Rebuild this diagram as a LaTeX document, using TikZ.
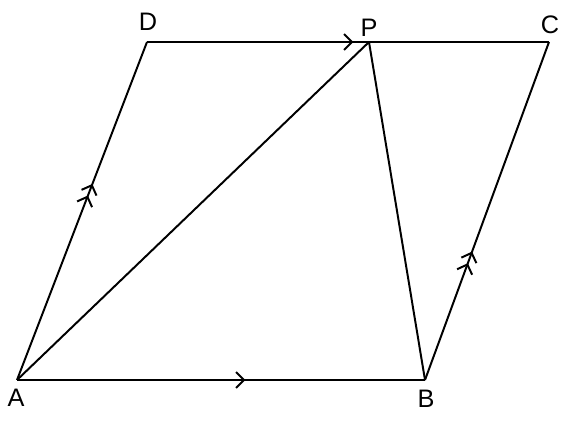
\documentclass[tikz,border=0pt]{standalone}
\usepackage{fontspec}
\setmainfont{Liberation Sans}
\usetikzlibrary{arrows.meta,decorations.markings}
\tikzset{
  barb/.tip={Straight Barb[length=2mm,width=4mm,line width=1.4pt]},
  onebarb/.style={postaction={decorate},
    decoration={markings,mark=at position #1 with {\arrow{barb}}}},
  twobarb/.style={postaction={decorate},
    decoration={markings,mark=at position #1 with {\arrow{barb[sep=0.5mm]barb}}}},
  lab/.style={font=\fontsize{18}{21}\selectfont,inner sep=0pt}
}
\begin{document}
\begin{tikzpicture}[line width=1.4pt]
      \useasboundingbox (0,0) rectangle (14.4,10.6);
      \draw
        (0.425,1.1) coordinate (A)
        (10.625,1.1) coordinate (B)
        (13.725,9.55) coordinate (C)
        (3.675,9.55) coordinate (D)
        (9.225,9.55) coordinate (P);
      \node[lab] (a) at (0.4,0.65) {A};
      \node[lab] (b) at (10.65,0.63) {B};
      \node[lab] (c) at (13.75,9.98) {C};
      \node[lab] (d) at (3.7,10.05) {D};
      \node[lab] (p) at (9.225,9.9) {P};
      \begin{scope}[-]
        \draw[onebarb=0.56] (A) to (B);
        \draw[twobarb=0.38] (B) to (C);
        \draw (P) to (C);
        \draw[onebarb=0.93] (D) to (P);
        \draw[twobarb=0.58] (A) to (D);
        \draw (A) to (P);
        \draw (P) to (B);
      \end{scope}
    \end{tikzpicture}
\end{document}
